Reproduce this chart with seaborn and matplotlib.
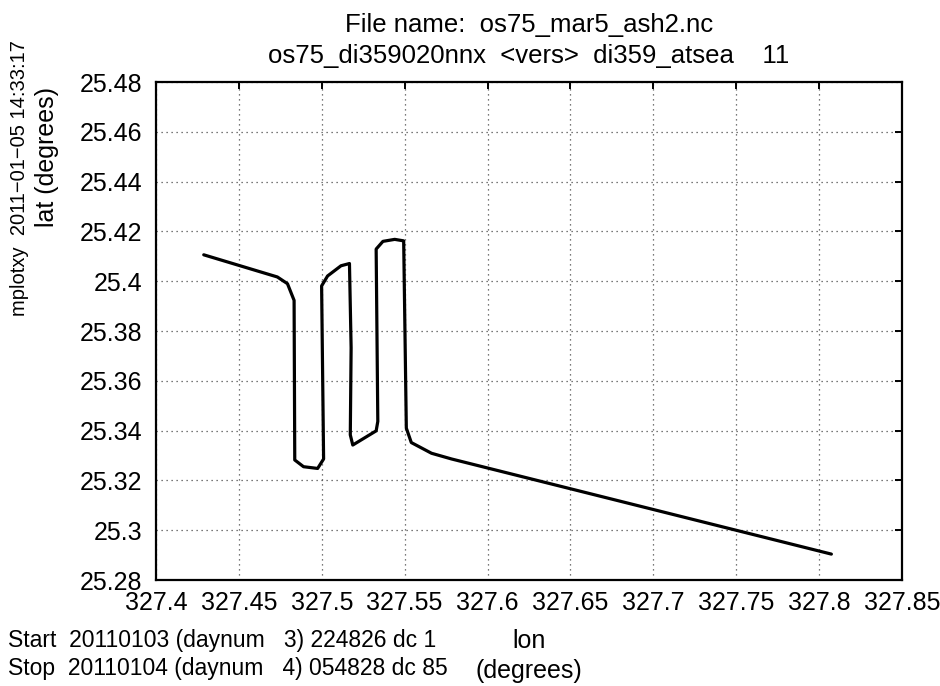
import matplotlib
matplotlib.use("Agg")
import matplotlib.pyplot as plt
import seaborn as sns
import pandas as pd

# Ship track (longitude / latitude in degrees)
lon = [327.4288, 327.4732, 327.4793, 327.4833, 327.4837, 327.4890, 327.4975,
       327.5011, 327.4999, 327.5035, 327.5116, 327.5167, 327.5177, 327.5172,
       327.5187, 327.5328, 327.5338, 327.5328, 327.5369, 327.5440, 327.5494,
       327.5510, 327.5540, 327.5662, 327.5783, 327.8074]
lat = [25.4106, 25.4017, 25.3990, 25.3923, 25.3282, 25.3255, 25.3248,
       25.3286, 25.3981, 25.4021, 25.4062, 25.4071, 25.3732, 25.3383,
       25.3342, 25.3399, 25.3437, 25.4129, 25.4160, 25.4168, 25.4162,
       25.3410, 25.3352, 25.3309, 25.3286, 25.2904]

x_ticks = [327.4, 327.45, 327.5, 327.55, 327.6, 327.65, 327.7, 327.75, 327.8, 327.85]
x_tick_labels = ["327.4", "327.45", "327.5", "327.55", "327.6", "327.65",
                 "327.7", "327.75", "327.8", "327.85"]
y_ticks = [25.28, 25.3, 25.32, 25.34, 25.36, 25.38, 25.4, 25.42, 25.44, 25.46, 25.48]
y_tick_labels = ["25.28", "25.3", "25.32", "25.34", "25.36", "25.38", "25.4",
                 "25.42", "25.44", "25.46", "25.48"]

title_lines = ["File name:  os75_mar5_ash2.nc",
               "os75_di359020nnx  <vers>  di359_atsea    11"]
stamp = "mplotxy  2011\u221201\u221205 14:33:17"
start_text = "Start  20110103 (daynum   3) 224826 dc 1"
stop_text = "Stop  20110104 (daynum   4) 054828 dc 85"

sns.set_theme(style="white")
plt.rcParams["font.family"] = ["Liberation Sans", "DejaVu Sans"]
plt.rcParams["text.color"] = "black"
plt.rcParams["axes.labelcolor"] = "black"
plt.rcParams["xtick.color"] = "black"
plt.rcParams["ytick.color"] = "black"

W, H = 940, 686
fig = plt.figure(figsize=(W / 100, H / 100), dpi=100)
ax = fig.add_axes([156 / W, 1 - 580 / H, 746 / W, 498 / H])

track = pd.DataFrame({"lon": lon, "lat": lat})
sns.lineplot(data=track, x="lon", y="lat", sort=False, estimator=None,
             color="black", linewidth=2.3, ax=ax)

ax.set_xlim(327.4, 327.85)
ax.set_ylim(25.28, 25.48)
ax.set_xticks(x_ticks)
ax.set_xticklabels(x_tick_labels)
ax.set_yticks(y_ticks)
ax.set_yticklabels(y_tick_labels)

ax.grid(True, linestyle=(0, (1, 3)), color="0.3", linewidth=0.9)
for s in ax.spines.values():
    s.set_visible(True)
    s.set_color("black")
    s.set_linewidth(1.6)
ax.tick_params(direction="in", length=5, width=1.4, top=True, right=True,
               colors="black", labelcolor="black", labelsize=18)
ax.tick_params(axis="x", pad=8)
ax.tick_params(axis="y", pad=10)

ax.set_xlabel("lon\n(degrees)", fontsize=18, linespacing=1.3, color="black")
ax.xaxis.set_label_coords(0.5, (580 - 629) / 498)
ax.xaxis.label.set_va("top")
ax.set_ylabel("lat (degrees)", fontsize=18, color="black")
ax.yaxis.set_label_coords((47 - 156) / 746, (580 - 157) / 498)
ax.yaxis.label.set_va("center")

cx = (156 + 746 / 2) / W
fig.text(cx, 1 - 32 / H, title_lines[0], ha="center", va="baseline", fontsize=18.5)
fig.text(cx, 1 - 63 / H, title_lines[1], ha="center", va="baseline", fontsize=18.5)
fig.text(20 / W, 1 - 178 / H, stamp, rotation=90, ha="center", va="center",
         fontsize=14.5)
fig.text(8 / W, 1 - 647 / H, start_text, ha="left", va="baseline", fontsize=16.5)
fig.text(8 / W, 1 - 675 / H, stop_text, ha="left", va="baseline", fontsize=16.5)

fig.savefig("out.png", dpi=100, facecolor="white")
